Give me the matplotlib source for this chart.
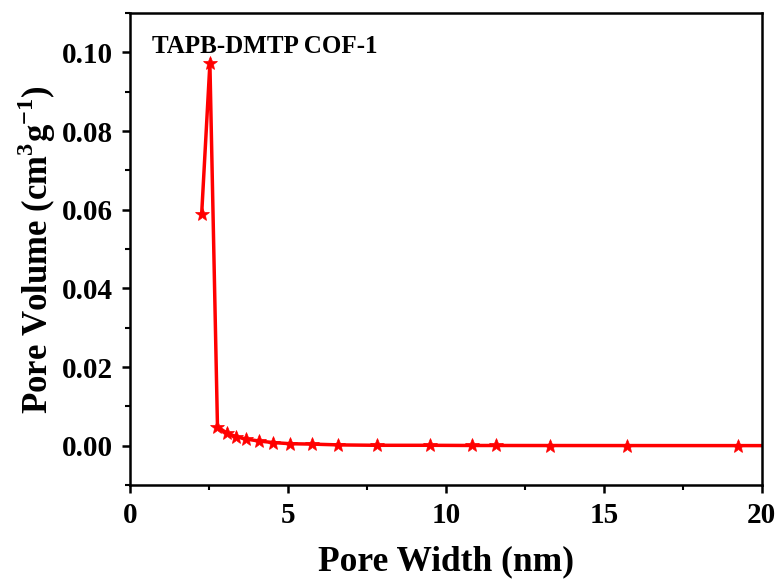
import matplotlib.pyplot as plt
from matplotlib.ticker import MultipleLocator

# 孔径分布数据 (nm, cm3/g)
pore_width = [2.27, 2.53, 2.77, 3.07, 3.36, 3.67, 4.07, 4.53, 5.07, 5.77,
              6.60, 7.83, 9.49, 10.84, 11.60, 13.29, 15.73, 19.24, 23.5]
pore_volume = [0.0590, 0.0972, 0.0048, 0.0032, 0.0023, 0.0017, 0.0012, 0.0008,
               0.0005, 0.0004, 0.0002, 0.0001, 0.0001, 0.00005, 0.00005,
               0.00004, 0.00003, 0.00002, 0.00001]
sample_name = 'TAPB-DMTP COF-1'

plt.rcParams['font.family'] = ['Liberation Serif', 'DejaVu Serif']
plt.rcParams['font.weight'] = 'bold'
plt.rcParams['mathtext.fontset'] = 'custom'
plt.rcParams['mathtext.rm'] = 'Liberation Serif:bold'
plt.rcParams['mathtext.bf'] = 'Liberation Serif:bold'

fig = plt.figure(figsize=(7.82, 5.84), dpi=100)
ax = fig.add_axes([0.1662, 0.1695, 0.808, 0.808])

ax.plot(pore_width, pore_volume, color='#ff0000', linewidth=2.5,
        marker='*', markersize=10.5, markeredgewidth=0.5)

ax.set_xlim(0, 20)
ax.set_ylim(-0.01, 0.11)
ax.xaxis.set_major_locator(MultipleLocator(5))
ax.xaxis.set_minor_locator(MultipleLocator(2.5))
ax.yaxis.set_major_locator(MultipleLocator(0.02))
ax.yaxis.set_minor_locator(MultipleLocator(0.01))
ax.yaxis.set_major_formatter(lambda v, pos: f'{v:.2f}')

for s in ax.spines.values():
    s.set_linewidth(1.8)
ax.tick_params(which='major', direction='out', length=6, width=1.8,
               labelsize=21, pad=6)
ax.tick_params(which='minor', direction='out', length=3.5, width=1.5)

ax.set_xlabel('Pore Width (nm)', fontsize=25.5, fontweight='bold', labelpad=12)
ax.set_ylabel(r'Pore Volume (cm$^{3}$g$^{-1}$)', fontsize=25,
              fontweight='bold', labelpad=3)

ax.text(0.035, 0.93, sample_name, transform=ax.transAxes, fontsize=18,
        fontweight='bold', ha='left', va='center')

plt.savefig('out.png', dpi=100)
